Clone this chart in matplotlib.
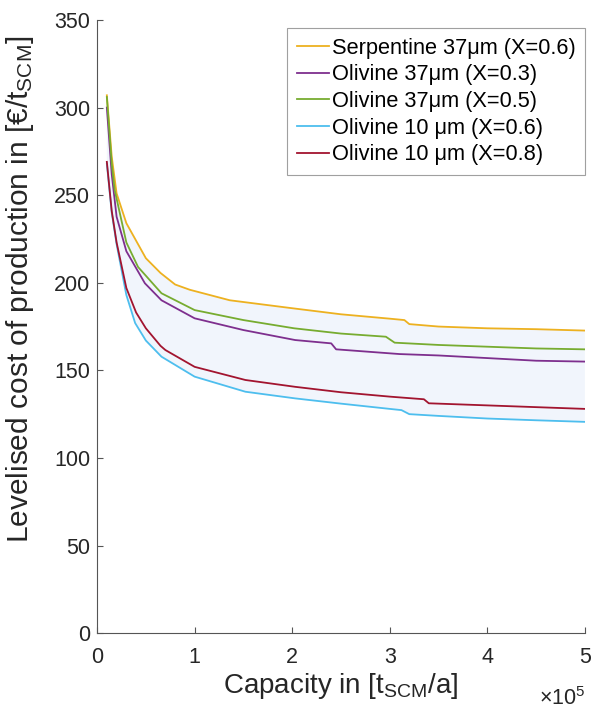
# Levelised cost of production vs plant capacity (MATLAB-style figure)
import numpy as np
import matplotlib
matplotlib.use("Agg")
import matplotlib.pyplot as plt
from matplotlib.ticker import FuncFormatter

plt.rcParams['font.family'] = ['Liberation Sans', 'DejaVu Sans']
plt.rcParams['mathtext.fontset'] = 'custom'
plt.rcParams['mathtext.rm'] = 'Liberation Sans'
plt.rcParams['mathtext.it'] = 'Liberation Sans'

# --- data (capacity in t/a, cost in EUR/t) ---
labels = ["Serpentine 37\u03bcm (X=0.6)", "Olivine 37\u03bcm (X=0.3)",
          "Olivine 37\u03bcm (X=0.5)", "Olivine 10 \u03bcm (X=0.6)",
          "Olivine 10 \u03bcm (X=0.8)"]

cap_serp = [10000, 15000, 20000, 30000, 41000, 50000, 65000, 80000, 95000, 136000,
            198000, 250000, 300000, 315000, 320000, 350000, 400000, 450000, 500000]
cost_serp = [307, 272, 251, 234, 223, 214, 205.6, 199, 196, 190,
             185.6, 182, 179.5, 178.7, 176.4, 175, 174, 173.5, 172.7]

cap_ol37_03 = [10000, 15000, 20000, 30000, 49000, 66000, 100000, 150000, 203000,
               240000, 245000, 310000, 350000, 400000, 450000, 500000]
cost_ol37_03 = [300, 262, 237.7, 218, 199.7, 190, 179.7, 173, 167.3,
                165.4, 162, 159.3, 158.5, 157, 155.5, 155]

cap_ol37_05 = [10000, 15000, 18000, 30000, 42000, 66000, 100000, 150000, 202000,
               250000, 296000, 305000, 350000, 400000, 450000, 500000]
cost_ol37_05 = [306, 268, 253, 223, 209, 194, 184.4, 178.7, 174,
                171, 169.2, 165.8, 164.5, 163.5, 162.5, 162]

cap_ol10_06 = [10000, 15000, 20000, 30000, 39000, 50000, 66000, 100000, 152000,
               203000, 250000, 300000, 312000, 320000, 350000, 400000, 450000, 500000]
cost_ol10_06 = [268, 240, 222, 193, 177, 167, 157.8, 146.4, 137.8,
                134, 131, 128, 127.3, 125, 124, 122.5, 121.5, 120.6]

cap_ol10_08 = [10000, 15000, 20000, 30000, 40000, 50000, 65000, 70000, 100000, 152000,
               203000, 250000, 300000, 335000, 340000, 400000, 450000, 500000]
cost_ol10_08 = [269, 241, 223, 197, 183, 174, 164, 161.6, 152, 144.5,
                140.6, 137.5, 135, 133.5, 131.2, 130, 129, 128]

colors = ['#EDB120', '#7E2F8E', '#77AC30', '#4DBEEE', '#A2142F']
band_color = '#f1f5fc'

fig = plt.figure(figsize=(5.92, 7.13), dpi=100)
ax = fig.add_axes([0.164, 0.112, 0.824, 0.860])

# shaded band between lowest and highest curve
poly_x = np.r_[cap_serp, cap_ol10_06[::-1]]
poly_y = np.r_[cost_serp, cost_ol10_06[::-1]]
ax.fill(poly_x, poly_y, color=band_color, lw=0, zorder=1)

series = [(cap_serp, cost_serp), (cap_ol37_03, cost_ol37_03), (cap_ol37_05, cost_ol37_05),
          (cap_ol10_06, cost_ol10_06), (cap_ol10_08, cost_ol10_08)]
for (xs, ys), c, lab in zip(series, colors, labels):
    ax.plot(xs, ys, color=c, lw=1.3, label=lab, zorder=3)

ax.set_xlim(0, 500000)
ax.set_ylim(0, 350)
ax.set_xticks(np.arange(0, 500001, 100000))
ax.set_yticks(np.arange(0, 351, 50))
ax.xaxis.set_major_formatter(FuncFormatter(lambda v, p: f"{v/1e5:g}"))

for s in ['top', 'right']:
    ax.spines[s].set_visible(False)
for s in ['left', 'bottom']:
    ax.spines[s].set_color('#555555')
    ax.spines[s].set_linewidth(0.8)
ax.tick_params(direction='in', length=4, width=0.8, colors='#555555',
               labelcolor='#262626', labelsize=15.5)
ax.tick_params(axis='x', pad=10)
ax.tick_params(axis='y', pad=5)

ax.set_xlabel("Capacity in [$\\mathregular{t_{SCM}}$/a]", fontsize=20, color='#262626')
ax.set_ylabel("Levelised cost of production in [\u20ac/$\\mathregular{t_{SCM}}$]",
              fontsize=21.5, color='#262626')
ax.xaxis.set_label_coords(0.5, -0.062)
ax.yaxis.set_label_coords(-0.125, 0.56)
fig.text(585 / 592, 1 - 705 / 713, "$\\mathregular{\\times10^5}$", fontsize=15.5,
         color='#262626', ha='right', va='baseline')

leg = ax.legend(loc='upper right', fontsize=15.7, frameon=True, fancybox=False,
                handlelength=1.5, handletextpad=0.1, borderpad=0.44, labelspacing=0.26,
                borderaxespad=0.0, bbox_to_anchor=(1.0, 1 - 8 / 613))
leg.get_frame().set_edgecolor('#888888')
leg.get_frame().set_linewidth(0.8)

fig.savefig("out.png", dpi=100)
